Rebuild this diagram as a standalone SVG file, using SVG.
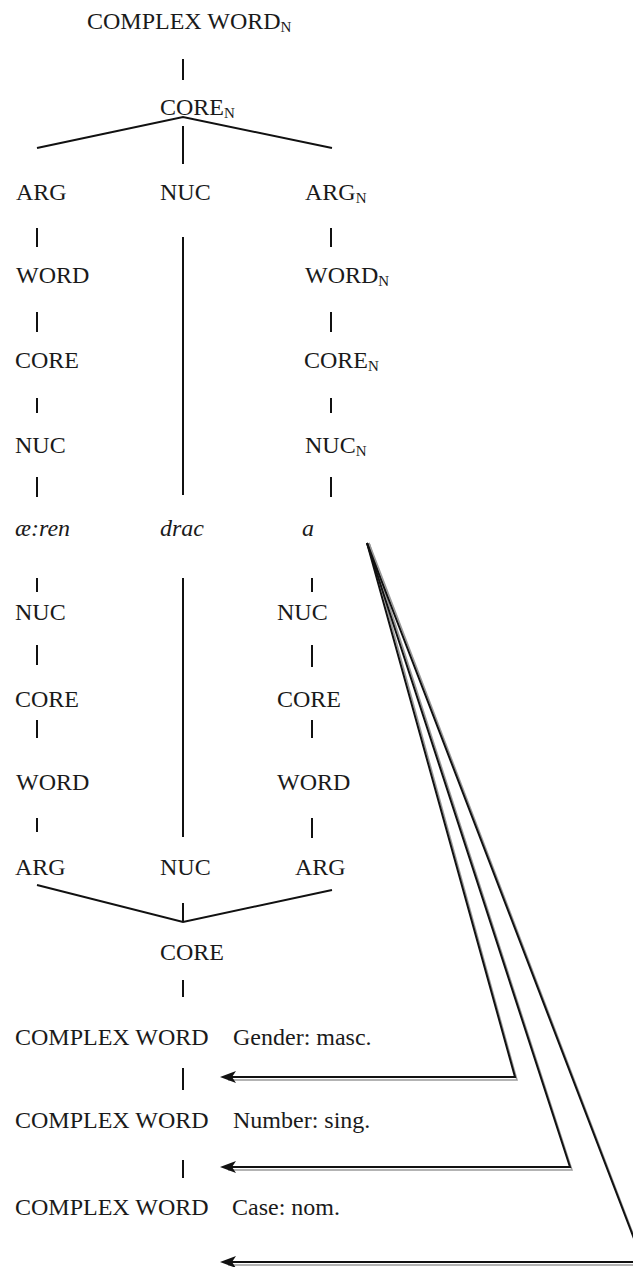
<svg xmlns="http://www.w3.org/2000/svg" width="633" height="1267" viewBox="0 0 633 1267">
<style>
  .t { font-family: 'Liberation Serif', 'DejaVu Serif', serif; font-size: 24px; fill: #1a1a1a; }
  .it { font-style: italic; }
  .sub { font-size: 15px; }
  .ln { stroke: #111; stroke-width: 2; fill: none; }
  .ar { stroke: #111; stroke-width: 2; fill: none; }
  .sh { stroke: #9a9a9a; stroke-width: 1.5; fill: none; }
  .hd { fill: #111; }
</style>

<g class="t" font-family="Liberation Serif, DejaVu Serif, serif">
<g id="n-cw-top"><text x="87" y="29">COMPLEX WORD<tspan class="sub" dy="3">N</tspan></text></g>
<g id="n-core-top"><text x="160" y="115">CORE<tspan class="sub" dy="3">N</tspan></text></g>

<g id="n-arg-l"><text x="16" y="200">ARG</text></g>
<g id="n-nuc-c"><text x="160" y="200">NUC</text></g>
<g id="n-arg-r"><text x="305" y="200">ARG<tspan class="sub" dy="3">N</tspan></text></g>

<g id="n-word-l"><text x="16" y="283">WORD</text></g>
<g id="n-word-r"><text x="305" y="283">WORD<tspan class="sub" dy="3">N</tspan></text></g>

<g id="n-core-l"><text x="15" y="368">CORE</text></g>
<g id="n-core-r"><text x="304" y="368">CORE<tspan class="sub" dy="3">N</tspan></text></g>

<g id="n-nuc-l"><text x="15" y="453">NUC</text></g>
<g id="n-nuc-r"><text x="305" y="453">NUC<tspan class="sub" dy="3">N</tspan></text></g>

<g id="n-aeren"><text class="it" x="15" y="536">æ:ren</text></g>
<g id="n-drac"><text class="it" x="160" y="536">drac</text></g>
<g id="n-a"><text class="it" x="302" y="536">a</text></g>

<g id="n-nuc-l2"><text x="15" y="620">NUC</text></g>
<g id="n-nuc-r2"><text x="277" y="620">NUC</text></g>

<g id="n-core-l2"><text x="15" y="707">CORE</text></g>
<g id="n-core-r2"><text x="277" y="707">CORE</text></g>

<g id="n-word-l2"><text x="16" y="790">WORD</text></g>
<g id="n-word-r2"><text x="277" y="790">WORD</text></g>

<g id="n-arg-l2"><text x="15" y="875">ARG</text></g>
<g id="n-nuc-c2"><text x="160" y="875">NUC</text></g>
<g id="n-arg-r2"><text x="295" y="875">ARG</text></g>

<g id="n-core-b"><text x="160" y="960">CORE</text></g>

<g id="n-cw1"><text x="15" y="1045">COMPLEX WORD</text><text x="233" y="1045">Gender: masc.</text></g>
<g id="n-cw2"><text x="15" y="1128">COMPLEX WORD</text><text x="233" y="1128">Number: sing.</text></g>
<g id="n-cw3"><text x="15" y="1215">COMPLEX WORD</text><text x="232" y="1215">Case: nom.</text></g>
</g>

<g id="connectors">
  <line class="ln" x1="183" y1="59" x2="183" y2="80"/>
  <polyline class="ln" points="37,148 183,117 332,148"/>
  <line class="ln" x1="183" y1="126" x2="183" y2="164"/>
  <line class="ln" x1="37" y1="228" x2="37" y2="247"/>
  <line class="ln" x1="37" y1="312" x2="37" y2="332"/>
  <line class="ln" x1="37" y1="398" x2="37" y2="413"/>
  <line class="ln" x1="37" y1="477" x2="37" y2="497"/>
  <line class="ln" x1="331" y1="228" x2="331" y2="247"/>
  <line class="ln" x1="331" y1="312" x2="331" y2="332"/>
  <line class="ln" x1="331" y1="398" x2="331" y2="413"/>
  <line class="ln" x1="331" y1="477" x2="331" y2="497"/>
  <line class="ln" x1="183" y1="237" x2="183" y2="495"/>
  <line class="ln" x1="183" y1="578" x2="183" y2="837"/>
  <line class="ln" x1="37" y1="578" x2="37" y2="592"/>
  <line class="ln" x1="37" y1="645" x2="37" y2="665"/>
  <line class="ln" x1="37" y1="720" x2="37" y2="738"/>
  <line class="ln" x1="37" y1="818" x2="37" y2="832"/>
  <line class="ln" x1="312" y1="578" x2="312" y2="592"/>
  <line class="ln" x1="312" y1="645" x2="312" y2="667"/>
  <line class="ln" x1="312" y1="720" x2="312" y2="738"/>
  <line class="ln" x1="312" y1="818" x2="312" y2="838"/>
  <polyline class="ln" points="37,885 183,922 332,890"/>
  <line class="ln" x1="183" y1="903" x2="183" y2="922"/>
  <line class="ln" x1="183" y1="980" x2="183" y2="997"/>
  <line class="ln" x1="183" y1="1068" x2="183" y2="1090"/>
  <line class="ln" x1="183" y1="1160" x2="183" y2="1178"/>
  <polyline class="sh" points="369,543 517,1080 228,1080"/>
  <polyline class="sh" points="369,543 572,1170 228,1170"/>
  <polyline class="sh" points="369,543 645,1265 228,1265"/>
  <polyline class="ar" points="367,543 515,1077 228,1077"/>
  <polyline class="ar" points="367,543 570,1167 228,1167"/>
  <polyline class="ar" points="367,543 643,1262 228,1262"/>
  <polygon class="hd" points="220,1077 236,1071 232,1077 236,1083"/>
  <polygon class="hd" points="220,1167 236,1161 232,1167 236,1173"/>
  <polygon class="hd" points="220,1262 236,1256 232,1262 236,1268"/>
</g>
</svg>
